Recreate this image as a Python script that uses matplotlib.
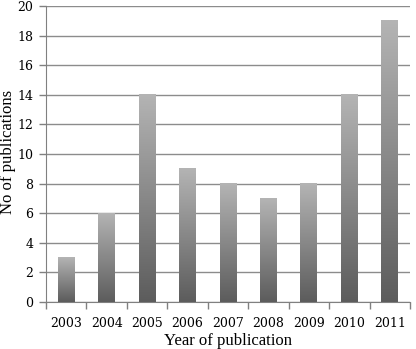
import matplotlib.pyplot as plt
import numpy as np

plt.rcParams['font.family'] = 'DejaVu Serif'

years = ['2003', '2004', '2005', '2006', '2007', '2008', '2009', '2010', '2011']
counts = [3, 6, 14, 9, 8, 7, 8, 14, 19]

fig = plt.figure(figsize=(4.16, 3.49), dpi=100)
ax = fig.add_axes([0.1106, 0.1347, 0.8750, 0.848])

x = np.arange(len(years))
w = 0.42
bars = ax.bar(x, counts, width=w, color='none', zorder=3)

# vertical gradient, light on top, dark at bottom
grad = np.linspace(0, 1, 256).reshape(-1, 1)
cmap = plt.matplotlib.colors.LinearSegmentedColormap.from_list('g', ['#5c5c5c', '#b4b4b4'])
for b in bars:
    x0, y0 = b.get_x(), b.get_y()
    ax.imshow(grad, cmap=cmap, origin='lower', aspect='auto', zorder=3,
              extent=[x0, x0 + b.get_width(), y0, y0 + b.get_height()])

ax.set_xlim(-0.5, len(years) - 0.5)
ax.set_ylim(0, 20)
ax.set_yticks(range(0, 21, 2))
ax.set_xticks(x)
ax.set_xticklabels(years)
ax.set_xticks(np.arange(-0.5, len(years), 1), minor=True)
ax.tick_params(axis='x', which='major', length=0, pad=11, labelsize=9)
ax.tick_params(axis='x', which='minor', length=5, color='#808080', width=1)
ax.tick_params(axis='y', length=5, color='#808080', width=1, pad=4, labelsize=9)

ax.grid(axis='y', color='#8c8c8c', lw=1, zorder=1)
for s in ['top', 'right']:
    ax.spines[s].set_visible(False)
ax.spines['left'].set_color('#808080')
ax.spines['bottom'].set_color('#808080')

ax.set_xlabel('Year of publication', fontsize=12, labelpad=2, family='Liberation Serif')
fig.text(8 / 416, 1 - 152 / 349, 'No of publications', fontsize=12,
         rotation=90, ha='center', va='center', family='Liberation Serif')

fig.savefig('out.png', dpi=100)
